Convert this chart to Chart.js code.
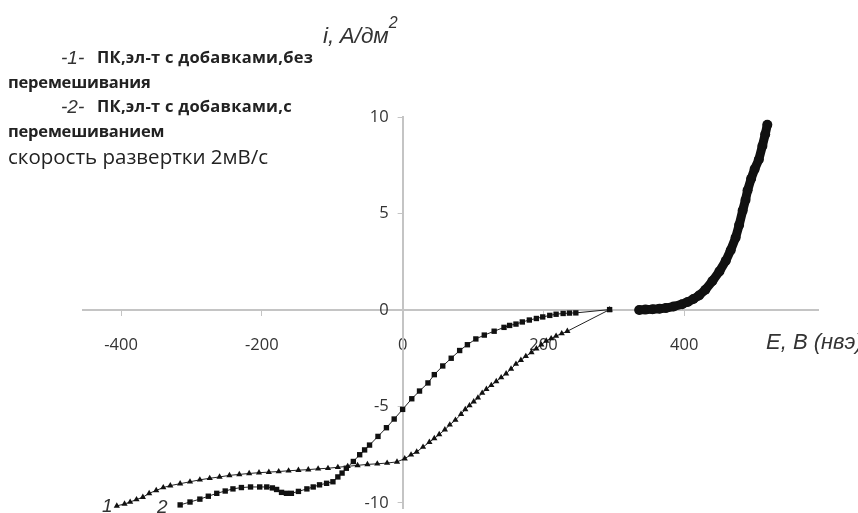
<!DOCTYPE html>
<html>
<head>
<meta charset="utf-8">
<script src="https://cdn.jsdelivr.net/npm/chart.js@4.4.1/dist/chart.umd.min.js"></script>
<style>
  html, body { margin: 0; padding: 0; background: #fff; overflow: hidden; }
  #wrap { position: relative; width: 858px; height: 513px; overflow: hidden; }
  canvas { position: absolute; left: 0; top: 0; }
  .t { position: absolute; white-space: nowrap; color: #222; font-family: "Open Sans", "Noto Sans", sans-serif; line-height: 1; }
  .b { font-weight: 700; font-size: 16.5px; letter-spacing: -0.2px; }
  .w { letter-spacing: 0.25px; }
  .num { font-family: "Liberation Sans", Arial, sans-serif; font-style: italic; font-size: 19px; color: #333; }
  .ax { font-family: "Liberation Sans", Arial, sans-serif; font-style: italic; font-size: 22px; color: #333; }
</style>
</head>
<body>
<div id="wrap">
  <canvas id="c" width="858" height="513"></canvas>
  <div class="t ax" style="left:323px;top:21px;font-size:22.5px;">i, A/дм<sup style="font-size:16px;position:relative;top:-6px;">2</sup></div>
  <div class="t num" style="left:61px;top:48px;">-1-</div>
  <div class="t b w" style="left:97px;top:49px;">ПК,эл-т с добавками,без</div>
  <div class="t b" style="left:8px;top:74px;">перемешивания</div>
  <div class="t num" style="left:61px;top:97px;">-2-</div>
  <div class="t b w" style="left:97px;top:98px;">ПК,эл-т с добавками,с</div>
  <div class="t b" style="left:8px;top:123px;">перемешиванием</div>
  <div class="t" style="left:8px;top:146px;font-size:20.5px;font-weight:500;">скорость развертки 2мВ/с</div>
  <div class="t ax" style="left:766px;top:331px;">E, B (нвэ)</div>
  <div class="t num" style="left:102px;top:496px;">1</div>
  <div class="t num" style="left:157px;top:497px;">2</div>
</div>
<script>
const xTicks = [-400, -200, 0, 200, 400];
const yTicks = [-10, -5, 0, 5, 10];

// Curve 1 (triangles): without stirring
const curve1E = [-406,-395,-387,-378,-369,-360,-350,-340,-330,-316,-302,-288,-274,-260,-246,-232,-218,-204,-190,-176,-162,-148,-134,-120,-106,-92,-78,-64,-50,-36,-22,-8,3,12,20,29,38,45,52,60,67,75,83,89,95,101,107,113,119,126,133,140,147,154,161,168,175,183,190,197,204,211,218,226,234,294];
const curve1I = [-10.15,-10.05,-9.95,-9.82,-9.7,-9.5,-9.35,-9.2,-9.1,-9.0,-8.9,-8.8,-8.72,-8.65,-8.57,-8.52,-8.47,-8.43,-8.4,-8.37,-8.33,-8.3,-8.27,-8.23,-8.2,-8.15,-8.1,-8.05,-8.0,-7.97,-7.93,-7.87,-7.7,-7.5,-7.35,-7.1,-6.85,-6.65,-6.45,-6.2,-5.95,-5.7,-5.4,-5.15,-4.95,-4.75,-4.55,-4.3,-4.1,-3.9,-3.7,-3.5,-3.3,-3.05,-2.8,-2.6,-2.4,-2.2,-2.0,-1.8,-1.6,-1.48,-1.35,-1.22,-1.1,0.02];

// Curve 2 (squares): with stirring
const curve2E = [-316,-302,-288,-276,-264,-252,-241,-229,-216,-203,-193,-185,-179,-172,-165,-158,-148,-136,-127,-118,-108,-99,-92,-86,-80,-70,-61,-54,-47,-35,-23,-12,0,13,24,36,45,57,69,81,92,104,116,130,144,152,161,170,180,190,199,209,218,228,237,246,294];
const curve2I = [-10.1,-9.95,-9.8,-9.65,-9.5,-9.38,-9.27,-9.2,-9.17,-9.17,-9.17,-9.22,-9.3,-9.45,-9.5,-9.5,-9.4,-9.27,-9.17,-9.06,-8.98,-8.9,-8.65,-8.45,-8.2,-7.85,-7.5,-7.25,-7.0,-6.55,-6.1,-5.65,-5.15,-4.6,-4.2,-3.78,-3.35,-2.9,-2.5,-2.1,-1.8,-1.5,-1.3,-1.1,-0.9,-0.8,-0.73,-0.62,-0.52,-0.44,-0.36,-0.28,-0.22,-0.18,-0.16,-0.15,0.02];

// Anodic branch (dense markers)
const anodicE = [336,345,355,365,374,385,397,405,413,421,430,440,450,459,466,473,478,483,487,490,495,500,506,511,515,518];
const anodicI = [0.0,0.02,0.04,0.07,0.1,0.18,0.3,0.42,0.57,0.75,1.05,1.5,2.0,2.55,3.1,3.75,4.4,5.15,5.7,6.2,6.8,7.3,7.8,8.5,9.1,9.6];

const toXY = (xs, ys) => xs.map((x, k) => ({ x: x, y: ys[k] }));

const axisColor = '#c4c4c4';
const tickFont = { family: '"Open Sans", "Noto Sans", sans-serif', size: 16.5, weight: 500 };

// Move the y axis so that it crosses the x axis at E = 0
const crossPlugin = {
  id: 'cross',
  afterLayout(chart) {
    const ys = chart.scales.y;
    const px = chart.scales.x.getPixelForValue(0);
    ys.left = px - 80;
    ys.right = px;
  }
};

new Chart(document.getElementById('c'), {
  type: 'scatter',
  data: {
    datasets: [
      {
        label: '1',
        data: toXY(curve1E, curve1I),
        showLine: true,
        clip: false,
        borderColor: '#222',
        borderWidth: 1,
        backgroundColor: '#111',
        pointBackgroundColor: '#111',
        pointBorderWidth: 0,
        pointStyle: 'triangle',
        pointRadius: 3.6
      },
      {
        label: '2',
        data: toXY(curve2E, curve2I),
        showLine: true,
        clip: false,
        borderColor: '#222',
        borderWidth: 1,
        backgroundColor: '#111',
        pointBackgroundColor: '#111',
        pointBorderWidth: 0,
        pointStyle: 'rect',
        pointRadius: 3.8
      },
      {
        label: 'anodic',
        data: toXY(anodicE, anodicI),
        showLine: true,
        clip: false,
        borderColor: '#111',
        borderWidth: 9,
        borderCapStyle: 'round',
        borderJoinStyle: 'round',
        pointBackgroundColor: '#111',
        pointBorderWidth: 0,
        pointStyle: 'circle',
        pointRadius: 5
      }
    ]
  },
  options: {
    responsive: false,
    animation: false,
    layout: { padding: { left: 83, right: 40, top: 117, bottom: 0 } },
    plugins: { legend: { display: false }, tooltip: { enabled: false } },
    scales: {
      x: {
        type: 'linear',
        min: -454,
        max: 590,
        position: { y: 0 },
        afterFit: (s) => { s.height = 0; s.paddingLeft = 0; s.paddingRight = 0; s.paddingTop = 0; s.paddingBottom = 0; },
        afterBuildTicks: (s) => { s.ticks = xTicks.map(v => ({ value: v })); },
        grid: { display: true, drawOnChartArea: false, drawTicks: true, tickLength: 5, color: axisColor },
        border: { display: true, color: axisColor, width: 2 },
        ticks: { color: '#333', font: tickFont, padding: 20, maxRotation: 0 }
      },
      y: {
        type: 'linear',
        min: -10.26,
        max: 10,
        position: 'left',
        afterFit: (s) => { s.width = 0; s.paddingLeft = 0; s.paddingRight = 0; s.paddingTop = 0; s.paddingBottom = 0; },
        afterBuildTicks: (s) => { s.ticks = yTicks.map(v => ({ value: v })); },
        grid: { display: true, drawOnChartArea: false, drawTicks: true, tickLength: 5, color: axisColor },
        border: { display: true, color: axisColor, width: 2 },
        ticks: { color: '#333', font: tickFont, padding: 9 }
      }
    }
  },
  plugins: [crossPlugin]
});
</script>
</body>
</html>
